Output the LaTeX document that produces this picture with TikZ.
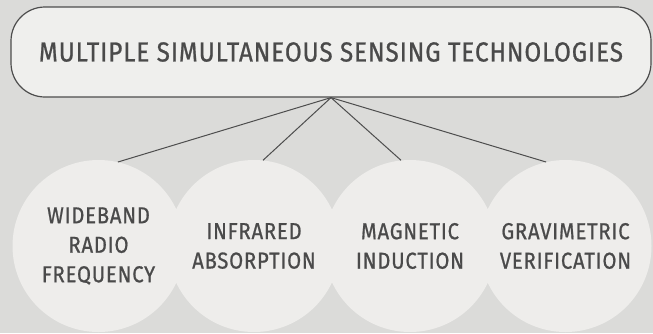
\documentclass[tikz,border=0pt]{standalone}
\usepackage{fontspec}
\setmainfont{Fira Sans}[LetterSpace=3.5, FakeStretch=0.88, FakeBold=0.8]
\definecolor{bgc}{HTML}{DBDBD9}
\definecolor{boxc}{HTML}{EFEFED}
\definecolor{bubc}{HTML}{EEEDEB}
\definecolor{linec}{HTML}{4D4D4D}
\definecolor{txtc}{HTML}{4A4A4A}
\tikzset{
  topbox/.style={draw=linec, line width=1.2pt, fill=boxc, rounded corners=34pt,
    minimum width=640pt, minimum height=90pt, inner sep=0pt, text=txtc,
    font=\fontsize{27.5}{30}\selectfont},
  bubble/.style={circle, fill=bubc, minimum size=172pt, inner sep=0pt, text=txtc,
    align=center, font=\fontsize{23}{29.5}\selectfont},
  conn/.style={draw=linec, line width=1pt}
}
\begin{document}
\begin{tikzpicture}[x=1pt,y=-1pt]
\fill[bgc] (0,0) rectangle (653,333);
\useasboundingbox (0,0) rectangle (653,333);
\node[topbox] (b) at (331,52) {MULTIPLE SIMULTANEOUS SENSING TECHNOLOGIES};
\node[bubble] (c1) at (98.5,246) {WIDEBAND\\RADIO\\FREQUENCY};
\node[bubble] (c2) at (254,246) {INFRARED\\ABSORPTION};
\node[bubble] (c3) at (410,246) {MAGNETIC\\INDUCTION};
\node[bubble] (c4) at (565.5,246) {GRAVIMETRIC\\VERIFICATION};
\draw[conn] (b.south) -- (c1.77);
\draw[conn] (b.south) -- (c2.84);
\draw[conn] (b.south) -- (c3.96);
\draw[conn] (b.south) -- (c4.103);
\end{tikzpicture}
\end{document}
